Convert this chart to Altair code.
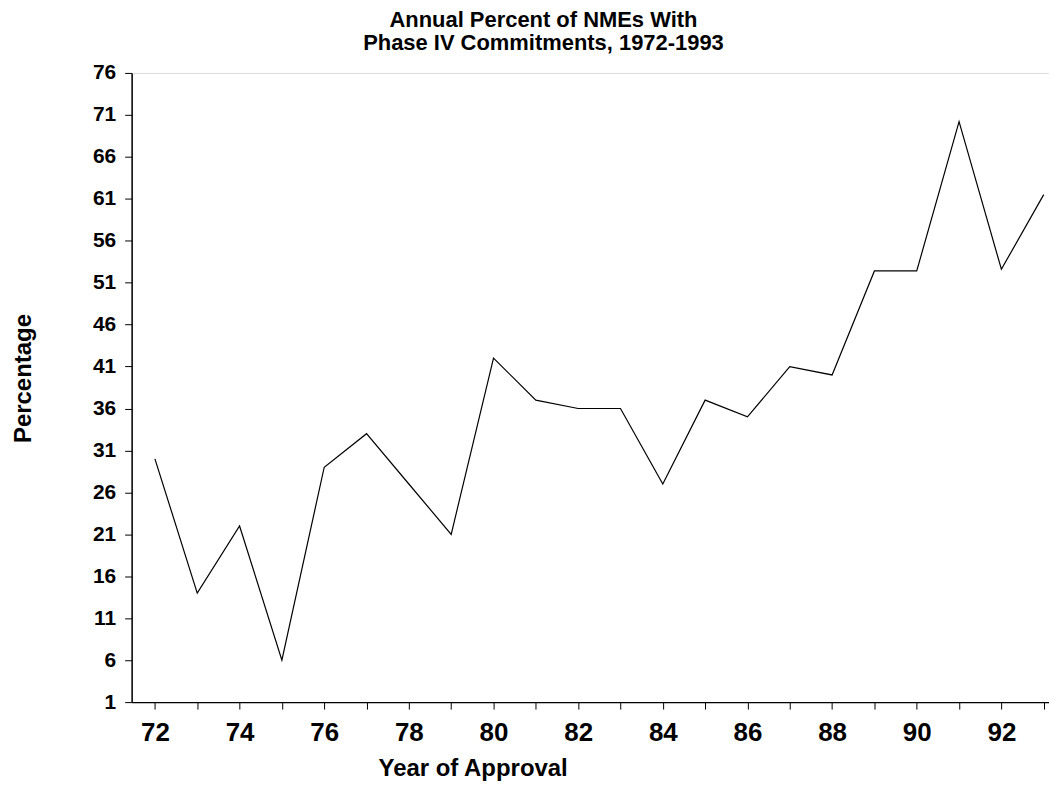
import altair as alt
import pandas as pd

years = list(range(72, 94))
percent = [30, 14, 22, 6, 29, 33, 27, 21, 42, 37, 36, 36, 27, 37, 35, 41, 40,
           52.4, 52.4, 70.2, 52.6, 61.5]
y_ticks = list(range(1, 77, 5))
x_ticks = list(range(72, 94))

df = pd.DataFrame({"year": years, "percent": percent})

FONT = "Liberation Sans"

chart = alt.Chart(df).mark_line(color="black", strokeWidth=1.2).encode(
    x=alt.X(
        "year:Q",
        scale=alt.Scale(domain=[71.45, 93.125], nice=False, zero=False),
        axis=alt.Axis(
            title="Year of Approval",
            values=x_ticks,
            format="d",
            labelExpr="datum.value % 2 == 0 ? datum.label : ''",
            labelOverlap=False,
            labelFlush=False,
            labelFontSize=26,
            labelFont=FONT,
            labelFontWeight="bold",
            labelColor="black",
            labelPadding=10,
            tickSize=7,
            tickColor="black",
            domainColor="black",
            domainWidth=1.5,
            grid=False,
            titleFont=FONT,
            titleFontSize=24,
            titleFontWeight="bold",
            titleColor="black",
            titleX=342,
            titleY=74,
            titleAnchor="middle",
            titleAlign="center",
            titleBaseline="alphabetic",
        ),
    ),
    y=alt.Y(
        "percent:Q",
        scale=alt.Scale(domain=[1, 76], nice=False, zero=False),
        axis=alt.Axis(
            title="Percentage",
            values=y_ticks,
            format="d",
            labelOverlap=False,
            labelFlush=False,
            labelFontSize=21,
            labelFont=FONT,
            labelFontWeight="bold",
            labelColor="black",
            labelPadding=9,
            tickSize=7,
            tickColor="black",
            domainColor="black",
            domainWidth=1.5,
            grid=False,
            titleFont=FONT,
            titleFontSize=24,
            titleFontWeight="bold",
            titleColor="black",
            titleAngle=270,
            titleX=-101,
            titleY=306,
            titleAlign="center",
            titleBaseline="alphabetic",
        ),
    ),
).properties(
    width=920,
    height=631,
    autosize=alt.AutoSizeParams(type="none"),
    padding={"left": 124, "top": 64, "right": 0, "bottom": 86},
    title=alt.TitleParams(
        text=["Annual Percent of NMEs With", "Phase IV Commitments, 1972-1993"],
        font=FONT,
        fontSize=22,
        fontWeight="bold",
        color="black",
        anchor="middle",
        lineHeight=23,
        dx=-47,
        offset=7,
    ),
).configure_view(stroke=None).configure(background="white")

chart.save("out.html", embed_options={"renderer": "svg", "actions": False})
